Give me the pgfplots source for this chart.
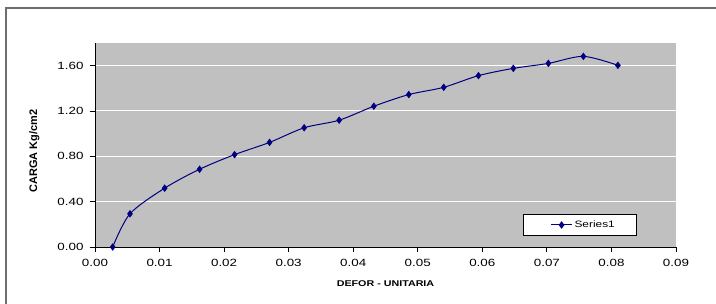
\documentclass[border=0pt]{standalone}
\usepackage{fontspec}
\setmainfont{Liberation Sans}
\newfontfamily\widefont{Liberation Sans}[FakeStretch=1.28]
\usepackage{pgfplots}
\pgfplotsset{compat=1.18}
\definecolor{plotbg}{RGB}{192,192,192}
\definecolor{series}{RGB}{0,0,128}
\definecolor{framecol}{RGB}{110,110,110}
\begin{document}
\begin{tikzpicture}
\useasboundingbox (0,0) rectangle (716bp,304bp);
\draw[line width=1.2bp, framecol] (6bp,-2bp) -- (6bp,296bp) -- (718bp,296bp);
\begin{axis}[
  at={(95bp,57bp)}, anchor=south west,
  scale only axis, width=581bp, height=204bp,
  xmin=0, xmax=0.09, ymin=0, ymax=1.8,
  xtick={0,0.01,0.02,0.03,0.04,0.05,0.06,0.07,0.08,0.09}, ytick={0,0.4,0.8,1.2,1.6},
  axis x line*=bottom, axis y line*=left,
  axis line style={black, line width=1bp, -},
  axis background/.style={fill=plotbg},
  ymajorgrids, major grid style={white, line width=1bp},
  tick align=outside, major tick length=5bp,
  tick style={black, line width=0.8bp},
  /pgf/number format/assume math mode=true,
  /pgf/number format/fixed, /pgf/number format/fixed zerofill, /pgf/number format/precision=2,
  scaled ticks=false,
  ticklabel style={font=\widefont\fontsize{10.5}{12}\selectfont},
  xticklabel style={yshift=-4bp},
  yticklabel style={xshift=-3bp},
  xlabel={DEFOR - UNITARIA},
  ylabel={CARGA Kg/cm2},
  xlabel style={font=\widefont\bfseries\fontsize{8.4}{10}\selectfont, at={(axis description cs:0.5,0)}, anchor=base, yshift=-39.7bp},
  ylabel style={font=\bfseries\fontsize{11}{13}\selectfont, at={(axis description cs:-0.0998,0.47)}, anchor=base},
  legend style={at={(0.737,0.054)}, anchor=south west, fill=white, draw=black, line width=0.8bp,
    font=\widefont\fontsize{9.3}{11}\selectfont, inner xsep=20bp, inner ysep=4.5bp},
  legend image code/.code={\path (0bp,0bp); \draw[#1, line width=1bp] (7bp,0bp) -- (28bp,0bp); \draw[#1, mark repeat=1] plot coordinates {(17.5bp,0bp)};},
]
\addplot[series, line width=1bp, smooth, tension=0.5, mark=diamond*, mark size=3pt,
  mark options={fill=series, solid}] coordinates {
(0.00274,0.000)
(0.00542,0.293)
(0.01079,0.519)
(0.01620,0.686)
(0.02162,0.815)
(0.02704,0.923)
(0.03240,1.052)
(0.03782,1.119)
(0.04319,1.242)
(0.04861,1.345)
(0.05402,1.409)
(0.05940,1.512)
(0.06480,1.576)
(0.07023,1.620)
(0.07565,1.682)
(0.08100,1.603)
};
\addlegendentry{Series1}
\end{axis}
\end{tikzpicture}
\end{document}
